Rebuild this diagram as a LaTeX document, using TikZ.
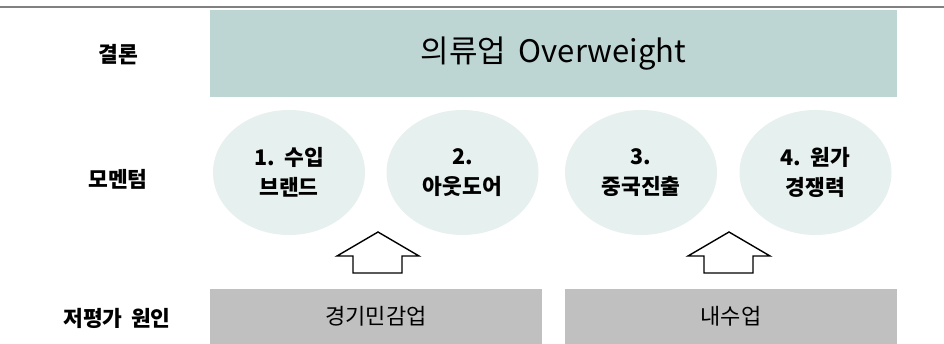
\documentclass[tikz,border=0pt]{standalone}
\usepackage{fontspec}
\usetikzlibrary{shapes.geometric}
\newfontfamily\kr{Noto Sans CJK KR}
\definecolor{topfill}{HTML}{BED6D3}
\definecolor{ellfill}{HTML}{E6F0EE}
\definecolor{botfill}{HTML}{C0C0C0}
\definecolor{rulegray}{HTML}{808080}
\begin{document}
\begin{tikzpicture}[x=1pt,y=-1pt,
  lbl/.style={inner sep=0pt, font=\kr\bfseries\fontsize{21.5}{24}\selectfont},
  topbox/.style={rectangle, fill=topfill, minimum width=687pt, minimum height=87pt, inner sep=0pt,
    font=\kr\fontsize{31}{34}\selectfont},
  mom/.style={ellipse, fill=ellfill, minimum width=152pt, minimum height=125pt, inner sep=0pt,
    align=center, font=\kr\bfseries\fontsize{21.5}{30}\selectfont},
  botbox/.style={rectangle, fill=botfill, minimum width=332pt, minimum height=55pt, inner sep=0pt,
    font=\kr\fontsize{22}{24}\selectfont},
  blockarrow/.style={draw=black, line width=1.4pt, fill=white, line join=miter}
]
\useasboundingbox (0,0) rectangle (944,344);
\draw[rulegray, line width=2pt] (0,7) coordinate (rl) -- (944,7) coordinate (rr);

\node[topbox] (top) at (553.5,53.5) {의류업\hspace{0.4em}Overweight};

\node[mom] (m1) at (289,172.5) {1.\hspace{0.45em}수입\\브랜드};
\node[mom] (m2) at (462.5,172.5) {2.\\아웃도어};
\node[mom] (m3) at (641,172.5) {3.\\중국진출};
\node[mom] (m4) at (815.5,172.5) {4.\hspace{0.45em}원가\\경쟁력};

\node[botbox] (b1) at (376,316.5) {경기민감업};
\node[botbox] (b2) at (731,316.5) {내수업};

\node[lbl] (l1) at (118,55) {결론};
\node[lbl] (l2) at (118,179) {모멘텀};
\node[lbl] (l3) at (117,318) {저평가\hspace{0.4em}원인};

\coordinate (a1) at (378,232);
\coordinate (a2) at (729,232);
\foreach \a in {a1,a2}{
  \draw[blockarrow] (\a) -- ++(41,24) -- ++(-17,0) -- ++(0,17) -- ++(-49,0) -- ++(0,-17) -- ++(-16,0) -- cycle;
}
\end{tikzpicture}
\end{document}
